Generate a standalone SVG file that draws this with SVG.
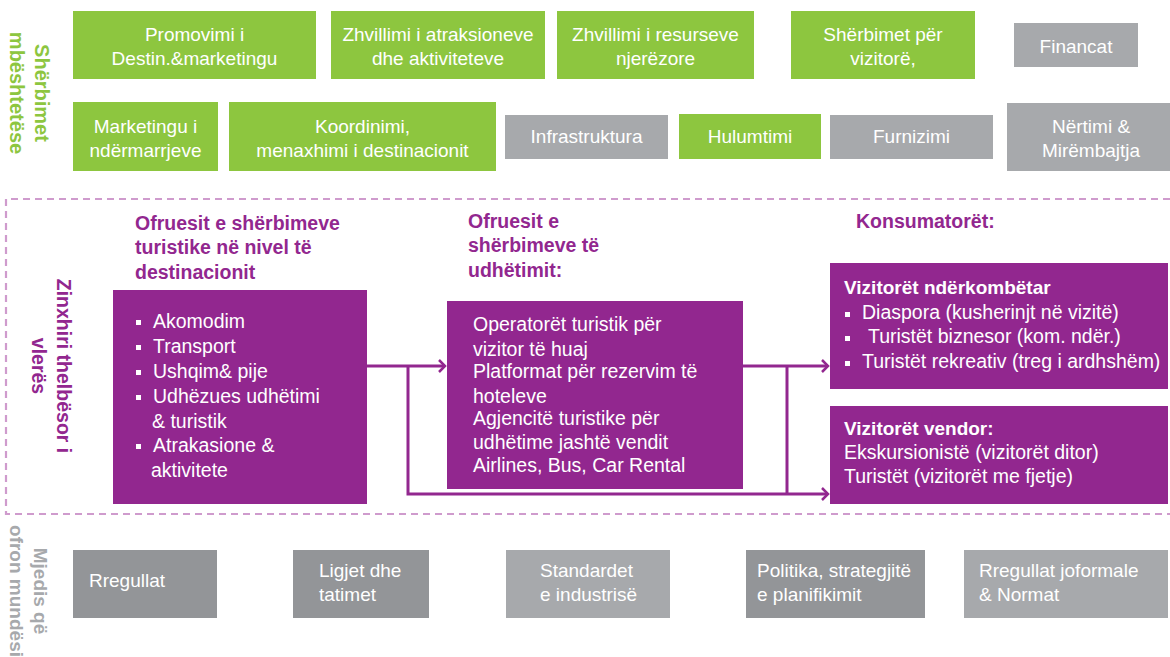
<svg xmlns="http://www.w3.org/2000/svg" width="1170" height="657" viewBox="0 0 1170 657">
<defs>
<style>
text{font-family:"Liberation Sans",Arial,sans-serif;font-size:19px}
.g{fill:#8dc63f}
.gr{fill:#a7a9ac}
.gd{fill:#939598}
.p{fill:#92278f}
.w{fill:#ffffff}
.c{text-anchor:middle}
.hd{fill:#92278f;font-weight:bold;font-size:19.5px}
.b{font-weight:bold}
.pt{font-size:19.5px}
.conn{fill:none;stroke:#92278f;stroke-width:3}
.bl{fill:#ffffff}
</style>
<marker id="arr" markerUnits="userSpaceOnUse" markerWidth="10" markerHeight="16" viewBox="0 0 10 16" refX="8" refY="8" orient="auto">
<path d="M2,2 L8,8 L2,14" fill="none" stroke="#92278f" stroke-width="2.5"/>
</marker>
</defs>
<rect width="1170" height="657" fill="#ffffff"/>

<!-- side labels -->
<g id="lbl-support">
<text class="b c" transform="translate(35,93) rotate(90)" style="fill:#8dc63f;font-size:20px"><tspan x="0" y="0">Shërbimet</tspan><tspan x="0" y="25">mbështetëse</tspan></text>
</g>
<g id="lbl-core">
<text class="b c" transform="translate(57,366) rotate(90)" style="fill:#92278f;font-size:19.5px"><tspan x="0" y="0">Zinxhiri thelbësor i</tspan><tspan x="0" y="25">vlerës</tspan></text>
</g>
<g id="lbl-env">
<text class="b c" transform="translate(34,591) rotate(90)" style="fill:#a7a9ac"><tspan x="0" y="0">Mjedis që</tspan><tspan x="0" y="24">ofron mundësi</tspan></text>
</g>

<!-- dashed frame -->
<path d="M1170,199 H6 V514 H1170" fill="none" stroke="#cf9bcd" stroke-width="2.2" stroke-dasharray="7 5"/>

<!-- top row -->
<g id="n-promovimi"><rect class="g" x="73" y="11" width="243" height="68"/><text class="w c"><tspan x="194.5" y="41">Promovimi i</tspan><tspan x="194.5" y="65">Destin.&amp;marketingu</tspan></text></g>
<g id="n-atraksione"><rect class="g" x="331" y="11" width="214" height="68"/><text class="w c"><tspan x="438" y="41">Zhvillimi i atraksioneve</tspan><tspan x="438" y="65">dhe aktiviteteve</tspan></text></g>
<g id="n-resurse"><rect class="g" x="557" y="11" width="197" height="68"/><text class="w c"><tspan x="655.5" y="41">Zhvillimi i resurseve</tspan><tspan x="655.5" y="65">njerëzore</tspan></text></g>
<g id="n-sherbimet"><rect class="g" x="791" y="11" width="184" height="68"/><text class="w c"><tspan x="883" y="41">Shërbimet për</tspan><tspan x="883" y="65">vizitorë,</tspan></text></g>
<g id="n-financat"><rect class="gr" x="1014" y="23" width="124" height="44"/><text class="w c" x="1076" y="53">Financat</text></g>

<!-- second row -->
<g id="n-marketingu"><rect class="g" x="73" y="102" width="145" height="69"/><text class="w c"><tspan x="145.5" y="133">Marketingu i</tspan><tspan x="145.5" y="157">ndërmarrjeve</tspan></text></g>
<g id="n-koordinimi"><rect class="g" x="229" y="102" width="267" height="69"/><text class="w c"><tspan x="362.5" y="133">Koordinimi,</tspan><tspan x="362.5" y="157">menaxhimi i destinacionit</tspan></text></g>
<g id="n-infra"><rect class="gr" x="505" y="115" width="163" height="44"/><text class="w c" x="586.5" y="143">Infrastruktura</text></g>
<g id="n-hulumtimi"><rect class="g" x="679" y="114" width="142" height="45"/><text class="w c" x="750" y="143">Hulumtimi</text></g>
<g id="n-furnizimi"><rect class="gr" x="830" y="115" width="163" height="44"/><text class="w c" x="911.5" y="143">Furnizimi</text></g>
<g id="n-nertimi"><rect class="gr" x="1007" y="103" width="168" height="68"/><text class="w c"><tspan x="1091" y="133">Nërtimi &amp;</tspan><tspan x="1091" y="157">Mirëmbajtja</tspan></text></g>

<!-- headings -->
<g id="h-dest"><text class="hd"><tspan x="135" y="230">Ofruesit e shërbimeve</tspan><tspan x="135" y="254">turistike në nivel të</tspan><tspan x="135" y="279">destinacionit</tspan></text></g>
<g id="h-travel"><text class="hd"><tspan x="468" y="228">Ofruesit e</tspan><tspan x="468" y="252">shërbimeve të</tspan><tspan x="468" y="277">udhëtimit:</tspan></text></g>
<g id="h-cons"><text class="hd" x="856" y="228">Konsumatorët:</text></g>

<!-- connectors -->
<g id="connectors">
<path class="conn" d="M367,366 H445" marker-end="url(#arr)"/>
<path class="conn" d="M408,366 V494 H828" marker-end="url(#arr)"/>
<path class="conn" d="M743,366 H828" marker-end="url(#arr)"/>
<path class="conn" d="M787,366 V494"/>
</g>

<!-- purple boxes -->
<g id="n-dest">
<rect class="p" x="113" y="290" width="254" height="214"/>
<rect class="bl" x="136" y="320" width="5" height="5"/>
<rect class="bl" x="136" y="345" width="5" height="5"/>
<rect class="bl" x="136" y="370" width="5" height="5"/>
<rect class="bl" x="136" y="395" width="5" height="5"/>
<rect class="bl" x="136" y="444" width="5" height="5"/>
<text class="w pt"><tspan x="153" y="328">Akomodim</tspan><tspan x="153" y="353">Transport</tspan><tspan x="153" y="378">Ushqim&amp; pije</tspan><tspan x="153" y="403">Udhëzues udhëtimi</tspan><tspan x="152" y="428">&amp; turistik</tspan><tspan x="153" y="452">Atrakasione &amp;</tspan><tspan x="151" y="477">aktivitete</tspan></text>
</g>
<g id="n-travel">
<rect class="p" x="447" y="301" width="296" height="188"/>
<text class="w pt"><tspan x="473" y="331">Operatorët turistik për</tspan><tspan x="473" y="356">vizitor të huaj</tspan><tspan x="473" y="378">Platformat për rezervim të</tspan><tspan x="473" y="403">hoteleve</tspan><tspan x="473" y="425">Agjencitë turistike për</tspan><tspan x="473" y="449">udhëtime jashtë vendit</tspan><tspan x="473" y="472">Airlines, Bus, Car Rental</tspan></text>
</g>
<g id="n-intl">
<rect class="p" x="830" y="263" width="338" height="126"/>
<text class="w b" x="844" y="294">Vizitorët ndërkombëtar</text>
<rect class="bl" x="845" y="312" width="5" height="5"/>
<rect class="bl" x="845" y="336" width="5" height="5"/>
<rect class="bl" x="845" y="361" width="5" height="5"/>
<text class="w pt"><tspan x="862" y="319">Diaspora (kusherinjt në vizitë)</tspan><tspan x="868" y="343">Turistët biznesor (kom. ndër.)</tspan><tspan x="862" y="368">Turistët rekreativ (treg i ardhshëm)</tspan></text>
</g>
<g id="n-local">
<rect class="p" x="830" y="406" width="338" height="98"/>
<text class="w b" x="844" y="435">Vizitorët vendor:</text>
<text class="w pt"><tspan x="844" y="459">Ekskursionistë (vizitorët ditor)</tspan><tspan x="844" y="483">Turistët (vizitorët me fjetje)</tspan></text>
</g>

<!-- bottom row -->
<g id="n-rregullat"><rect class="gd" x="73" y="550" width="144" height="68"/><text class="w" x="89" y="587">Rregullat</text></g>
<g id="n-ligjet"><rect class="gd" x="293" y="550" width="136" height="68"/><text class="w"><tspan x="319" y="577">Ligjet dhe</tspan><tspan x="319" y="601">tatimet</tspan></text></g>
<g id="n-standardet"><rect class="gr" x="506" y="550" width="164" height="68"/><text class="w"><tspan x="540" y="577">Standardet</tspan><tspan x="540" y="601">e industrisë</tspan></text></g>
<g id="n-politika"><rect class="gd" x="746" y="550" width="179" height="68"/><text class="w"><tspan x="757" y="577">Politika, strategjitë</tspan><tspan x="757" y="601">e planifikimit</tspan></text></g>
<g id="n-joformale"><rect class="gr" x="964" y="550" width="204" height="68"/><text class="w"><tspan x="979" y="577">Rregullat joformale</tspan><tspan x="979" y="601">&amp; Normat</tspan></text></g>
</svg>
